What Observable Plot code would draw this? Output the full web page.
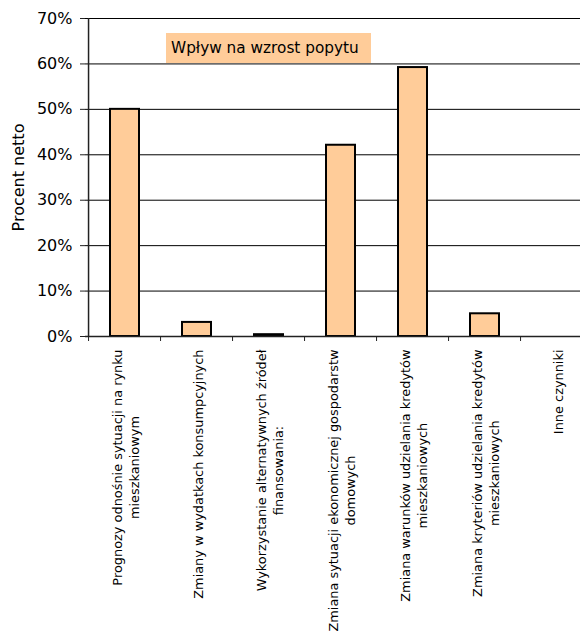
<!DOCTYPE html>
<html><head><meta charset="utf-8">
<script src="https://cdn.jsdelivr.net/npm/d3@7"></script>
<script src="https://cdn.jsdelivr.net/npm/@observablehq/plot@0.6"></script>
<style>
body{margin:0;background:#fff;}
#wrap{position:relative;width:581px;height:633px;overflow:hidden;}
.legend{position:absolute;left:166px;top:33px;width:205px;height:30px;background:#FFCC99;
 font-family:"DejaVu Sans";font-size:15.3px;line-height:30px;padding-left:5px;box-sizing:border-box;color:#000;white-space:nowrap;}
</style></head><body><div id="wrap"></div>
<script>
const categories = [
  "Prognozy odnośnie sytuacji na rynku\nmieszkaniowym",
  "Zmiany w wydatkach konsumpcyjnych",
  "Wykorzystanie alternatywnych źródeł\nfinansowania:",
  "Zmiana sytuacji ekonomicznej gospodarstw\ndomowych",
  "Zmiana warunków udzielania kredytów\nmieszkaniowych",
  "Zmiana kryteriów udzielania kredytów\nmieszkaniowych",
  "Inne czynniki"
];
const values = [0.50, 0.031, 0.004, 0.421, 0.592, 0.05, 0];
const yTicks = [0, 0.1, 0.2, 0.3, 0.4, 0.5, 0.6, 0.7];
const seriesName = "Wpływ na wzrost popytu";
const yLabel = "Procent netto";

const FONT = "DejaVu Sans";
const W = 581, H = 633, ML = 85, MR = 1, MT = 18, MB = 297;
// the original plot area extends past the right edge of the picture
const step = 72.9;
const data = categories.map((c, i) => ({category: c, value: values[i]}));

const chart = Plot.plot({
  width: W, height: H,
  marginLeft: ML, marginRight: MR, marginTop: MT, marginBottom: MB,
  style: {fontFamily: FONT, fontSize: "16px", color: "#000", background: "#fff"},
  x: {domain: categories, range: [ML, ML + step * categories.length], paddingInner: 0.602, paddingOuter: 0.301, axis: null},
  y: {domain: [0, 0.7], axis: null},
  marks: [
    Plot.gridY(yTicks, {stroke: "#000", strokeOpacity: 1, strokeWidth: 1}),
    Plot.barY(data, {x: "category", y: "value", fill: "#FFCC99", stroke: "#000", strokeWidth: 2}),
    Plot.ruleY([0], {stroke: "#222", strokeWidth: 1.5}),
    Plot.ruleX(categories.slice(0, 1), {x: d => d, dx: -step / 2, stroke: "#222", strokeWidth: 1.5}),
    Plot.axisY(yTicks, {tickFormat: d3.format(".0%"), tickSize: 5, tickPadding: 8, fontSize: 16, label: null, stroke: "#222"}),
    Plot.axisX(categories, {tickSize: 5, tickFormat: () => "", dx: -step / 2, label: null, stroke: "#222"}),
    Plot.text(categories, {x: d => d, text: d => d, frameAnchor: "bottom", rotate: -90,
      textAnchor: "middle", lineAnchor: "middle", lineHeight: 1.36, fontSize: 12.9}),
    Plot.text([yLabel], {text: d => d, frameAnchor: "left", rotate: -90, dx: -67, lineAnchor: "middle",
      textAnchor: "middle", fontSize: 16})
  ]
});

const wrap = document.getElementById("wrap");
wrap.appendChild(chart);
const leg = document.createElement("div");
leg.className = "legend";
leg.textContent = seriesName;
wrap.appendChild(leg);

// shift rotated category labels so their longest line starts just below the axis
const flat = categories.map(c => c.replace(/\n/g, ""));
chart.querySelectorAll("text").forEach(t => {
  if (!flat.includes(t.textContent)) return;
  const w = t.getBBox().width;
  const tr = t.getAttribute("transform") || "";
  t.setAttribute("transform", tr + ` translate(${-(w / 2 + 13)},0)`);
});
</script></body></html>
